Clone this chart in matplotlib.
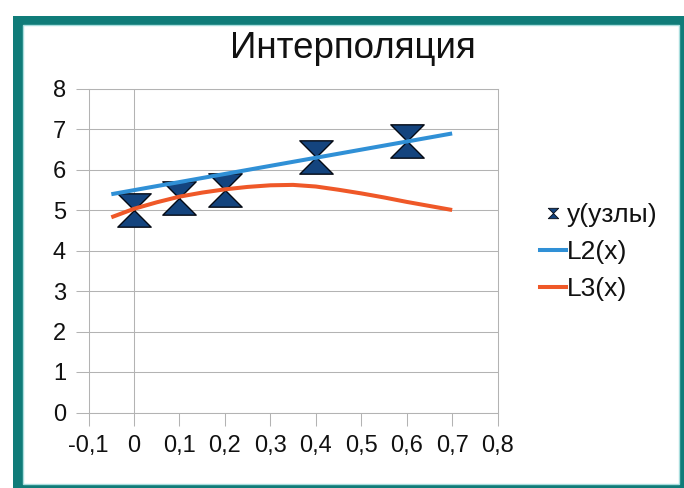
import matplotlib
matplotlib.use("Agg")
import matplotlib.pyplot as plt
import matplotlib.patches as patches
from matplotlib.path import Path
from matplotlib.lines import Line2D

# nodes
x_nodes = [0.0, 0.1, 0.2, 0.4, 0.6]
y_nodes = [5.0, 5.3, 5.5, 6.3, 6.7]

# curves
x_curve = [-0.05, 0.0, 0.05, 0.1, 0.15, 0.2, 0.25, 0.3, 0.35, 0.4, 0.45, 0.5, 0.55, 0.6, 0.65, 0.7]
y_l2 = [5.39, 5.49, 5.59, 5.69, 5.79, 5.89, 5.99, 6.09, 6.19, 6.29, 6.39, 6.49, 6.59, 6.69, 6.79, 6.89]
y_l3 = [4.82, 5.03, 5.19, 5.33, 5.43, 5.51, 5.57, 5.61, 5.62, 5.58, 5.50, 5.41, 5.31, 5.20, 5.10, 5.00]

x_ticks = [-0.1, 0.0, 0.1, 0.2, 0.3, 0.4, 0.5, 0.6, 0.7, 0.8]
x_labels = ["-0,1", "0", "0,1", "0,2", "0,3", "0,4", "0,5", "0,6", "0,7", "0,8"]
y_ticks = [0, 1, 2, 3, 4, 5, 6, 7, 8]

title = "Интерполяция"
labels = ["y(узлы)", "L2(x)", "L3(x)"]

plt.rcParams['font.family'] = ['Liberation Sans', 'DejaVu Sans']

W, H = 684, 488
fig = plt.figure(figsize=(W / 100, H / 100), dpi=100)

# teal frame of the chart object
fig.patches.append(patches.Rectangle((0, 1 - 13 / H), 1, 0.001, transform=fig.transFigure,
                                     facecolor='#d5dede', edgecolor='none', zorder=0))
fig.patches.append(patches.Rectangle((13 / W, 0), 1, 1 - 16 / H, transform=fig.transFigure,
                                     facecolor='#107c79', edgecolor='none', zorder=0))
fig.patches.append(patches.Rectangle((22.5 / W, 4.5 / H), (679 - 22.5) / W, (463 - 4.5) / H,
                                     transform=fig.transFigure, facecolor='white',
                                     edgecolor='#a9dede', linewidth=1, zorder=0))

gray = '#b3b3b3'
ax = fig.add_axes([88.6 / W, 1 - 412.5 / H, (497.6 - 88.6) / W, (412.5 - 88.5) / H])
ax.set_zorder(2)
ax.set_facecolor('none')

hourglass = Path([(-1, 1), (1, 1), (-1, -1), (1, -1), (-1, 1)],
                 [Path.MOVETO, Path.LINETO, Path.LINETO, Path.LINETO, Path.CLOSEPOLY])

ax.plot(x_nodes, y_nodes, linestyle='none', marker=hourglass, markersize=24,
        markerfacecolor='#14447e', markeredgecolor='#050a14', markeredgewidth=1.0, zorder=3)
ax.plot(x_curve, y_l2, color='#3090d6', linewidth=2.9, solid_capstyle='butt', zorder=4)
ax.plot(x_curve, y_l3, color='#ef5828', linewidth=2.9, solid_capstyle='butt', zorder=4)

ax.set_xlim(-0.1, 0.8)
ax.set_ylim(0, 8)
ax.set_xticks(x_ticks)
ax.set_xticklabels(x_labels)
ax.set_yticks(y_ticks)
ax.yaxis.grid(True, color=gray, linewidth=0.75)
ax.set_axisbelow(True)
ax.axvline(0, color=gray, linewidth=0.75, zorder=1)
for s in ax.spines.values():
    s.set_color(gray)
    s.set_linewidth(0.75)
ax.tick_params(direction='out', length=9.7, width=0.75, color=gray, labelsize=17,
               pad=6.5, labelcolor='#111111')

fig.text(352.5 / W, 1 - 58.3 / H, title, ha='center', va='baseline', fontsize=26.5, color='#111111')

handles = [
    Line2D([], [], linestyle='none', marker=hourglass, markersize=7.5,
           markerfacecolor='#14447e', markeredgecolor='#050a14', markeredgewidth=0.6),
    Line2D([], [], color='#3090d6', linewidth=2.9),
    Line2D([], [], color='#ef5828', linewidth=2.9),
]
leg = fig.legend(handles, labels, loc='center left', bbox_to_anchor=(540 / W, 1 - 252 / H),
                 frameon=False, fontsize=19, handlelength=0.98, handletextpad=0.05,
                 labelspacing=0.5, borderaxespad=0, borderpad=0, labelcolor='#111111')
leg.set_zorder(3)

fig.savefig('out.png', dpi=100)
